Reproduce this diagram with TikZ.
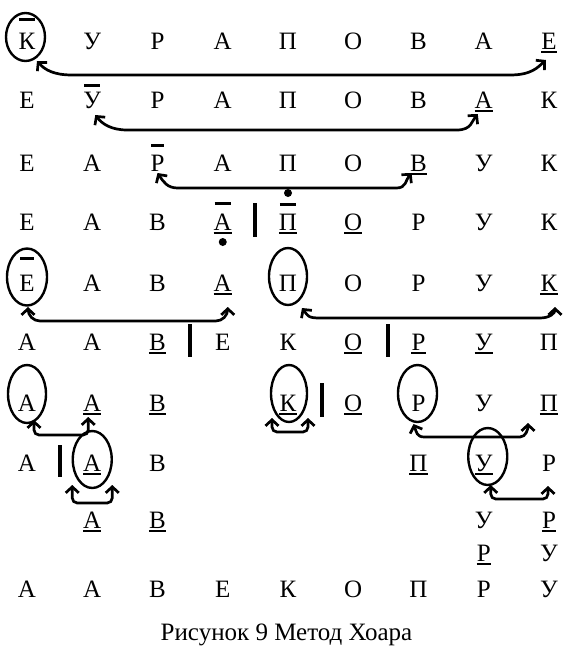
\documentclass[tikz,border=0pt]{standalone}
\usepackage{fontspec}
\setmainfont{Liberation Serif}
\usetikzlibrary{arrows.meta,calc}
\begin{document}
\begin{tikzpicture}[x=1pt,y=-1pt,
  lt/.style={inner sep=0pt, anchor=base, font=\fontsize{25}{30}\selectfont},
  captiontext/.style={inner sep=0pt, anchor=base, font=\fontsize{25}{30}\selectfont},
  arr/.style={line width=2.7pt, {Straight Barb[length=6pt,width=13pt]}-{Straight Barb[length=6pt,width=13pt]}},
  oval/.style={line width=2.4pt},
  ovl/.style={line width=3pt},
  ulthick/.style={line width=2.6pt},
  ulthin/.style={line width=1.1pt},
  sepbar/.style={line width=4pt},
  ]
\useasboundingbox (0,0) rectangle (575,651);

% letters
\foreach \row/\yy/\letters in {
  1/49/{0/К,1/У,2/Р,3/А,4/П,5/О,6/В,7/А,8/Е},
  2/108/{0/Е,1/У,2/Р,3/А,4/П,5/О,6/В,7/А,8/К},
  3/171/{0/Е,1/А,2/Р,3/А,4/П,5/О,6/В,7/У,8/К},
  4/230/{0/Е,1/А,2/В,3/А,4/П,5/О,6/Р,7/У,8/К},
  5/291/{0/Е,1/А,2/В,3/А,4/П,5/О,6/Р,7/У,8/К},
  6/350/{0/А,1/А,2/В,3/Е,4/К,5/О,6/Р,7/У,8/П},
  7/411/{0/А,1/А,2/В,4/К,5/О,6/Р,7/У,8/П},
  8/471/{0/А,1/А,2/В,6/П,7/У,8/Р},
  9/528/{1/А,2/В,7/У,8/Р},
  10/561/{7/Р,8/У},
  11/597/{0/А,1/А,2/В,3/Е,4/К,5/О,6/П,7/Р,8/У}}
{
  \foreach \c/\ch in \letters {
    \node[lt] (r\row c\c) at ({27+65.25*\c},\yy) {\ch};
  }
}

\node[captiontext] (caption) at (286.5,640) {Рисунок 9 Метод Хоара};

% underlines
\foreach \n in {r1c8,r2c7,r3c6,r4c3,r4c4,r4c5}
  \draw[ulthick] ([shift={(0,3)}]\n.base west) -- ([shift={(0,3)}]\n.base east);
\foreach \n in {r5c3,r5c8,r6c2,r6c5,r6c6,r6c7,r7c1,r7c2,r7c4,r7c5,r7c8,r8c1,r8c6,r8c7,r9c1,r9c2,r9c8,r10c7}
  \draw[ulthin] ([shift={(0,3)}]\n.base west) -- ([shift={(0,3)}]\n.base east);

% overlines
\foreach \n/\o in {r1c0/-30,r2c1/-23,r3c2/-26,r4c3/-27,r4c4/-25.5,r5c0/-33}
  \draw[ovl] ([shift={(1,\o)}]\n.base west) -- ([shift={(-1,\o)}]\n.base east);

% dots
\fill ([shift={(0,-37)}]r4c4.base) circle (4pt);
\fill ([shift={(0,12)}]r4c3.base) circle (4pt);

% separator bars
\draw[sepbar] ($(r4c3.base)!0.5!(r4c4.base)+(0,-27)$) -- ++(0,34);
\draw[sepbar] ($(r6c2.base)!0.5!(r6c3.base)+(0,-26)$) -- ++(0,33);
\draw[sepbar] ($(r6c5.base)!0.5!(r6c6.base)+(2.5,-26)$) -- ++(0,33);
\draw[sepbar] ($(r7c4.base)!0.5!(r7c5.base)+(1,-28)$) -- ++(0,34);
\draw[sepbar] ($(r8c0.base)!0.5!(r8c1.base)+(0,-26)$) -- ++(0,32);

% ellipses
\draw[oval] ([shift={(-1.5,-12)}]r1c0.base) ellipse [x radius=19.5pt, y radius=24pt];
\draw[oval] ([shift={(0,-14)}]r5c0.base) ellipse [x radius=20pt, y radius=28.5pt];
\draw[oval] ([shift={(0,-14.5)}]r5c4.base) ellipse [x radius=19pt, y radius=28.5pt];
\draw[oval] ([shift={(0,-17)}]r7c0.base) ellipse [x radius=19pt, y radius=29pt];
\draw[oval] ([shift={(1,-17.5)}]r7c4.base) ellipse [x radius=18pt, y radius=28.5pt];
\draw[oval] ([shift={(-1,-17.5)}]r7c6.base) ellipse [x radius=19.5pt, y radius=28.5pt];
\draw[oval] ([shift={(0,-11.5)}]r8c1.base) ellipse [x radius=19.5pt, y radius=28.5pt];
\draw[oval] ([shift={(4,-14.5)}]r8c7.base) ellipse [x radius=19.5pt, y radius=28.5pt];

% exchange arrows
\draw[arr] ([shift={(10,12)}]r1c0.base) .. controls +(8,9) and +(-18,0) .. ([shift={(45,26)}]r1c0.base)
  -- ([shift={(-39,26)}]r1c8.base) .. controls +(22,0) and +(-8,7) .. ([shift={(-3,11)}]r1c8.base);
\draw[arr] ([shift={(3,7)}]r2c1.base) .. controls +(7,9) and +(-16,0) .. ([shift={(35,22)}]r2c1.base)
  -- ([shift={(-27,22)}]r2c7.base) .. controls +(15,0) and +(-6,7) .. ([shift={(-6,6)}]r2c7.base);
\draw[arr] ([shift={(0,2)}]r3c2.base) .. controls +(6,9) and +(-10,0) .. ([shift={(20,17)}]r3c2.base)
  -- ([shift={(-22,17)}]r3c6.base) .. controls +(10,0) and +(-6,7) .. ([shift={(-7,2)}]r3c6.base);
\draw[arr, rounded corners=12pt] ([shift={(1,16)}]r5c0.base) |- ([shift={(5,30)}]r5c3.base) -- ([shift={(5,16)}]r5c3.base);
\draw[arr] ([shift={(14,17)}]r5c4.base) .. controls +(6,8) and +(-12,0) .. ([shift={(32,27)}]r5c4.base)
  -- ([shift={(-9,27)}]r5c8.base) .. controls +(10,0) and +(0,6) .. ([shift={(6,16)}]r5c8.base);
\draw[arr, rounded corners=5pt] ([shift={(7,9)}]r7c0.base) |- ([shift={(-4,24)}]r7c1.base) -- ([shift={(-4,6)}]r7c1.base);
\draw[arr, rounded corners=5pt] ([shift={(-16,7)}]r7c4.base) |- ([shift={(20,21)}]r7c4.base) -- ([shift={(20,7)}]r7c4.base);
\draw[arr] ([shift={(-5,13)}]r7c6.base) .. controls +(3,8) and +(-8,0) .. ([shift={(6,26)}]r7c6.base)
  -- ([shift={(-29,26)}]r7c8.base) .. controls +(6,0) and +(0,6) .. ([shift={(-21,12)}]r7c8.base);
\draw[arr, rounded corners=5pt] ([shift={(-20,14)}]r8c1.base) |- ([shift={(20,32)}]r8c1.base) -- ([shift={(20,14)}]r8c1.base);
\draw[arr, rounded corners=5pt] ([shift={(7,14)}]r8c7.base) |- ([shift={(-1,28)}]r8c8.base) -- ([shift={(-1,15)}]r8c8.base);
\end{tikzpicture}
\end{document}
